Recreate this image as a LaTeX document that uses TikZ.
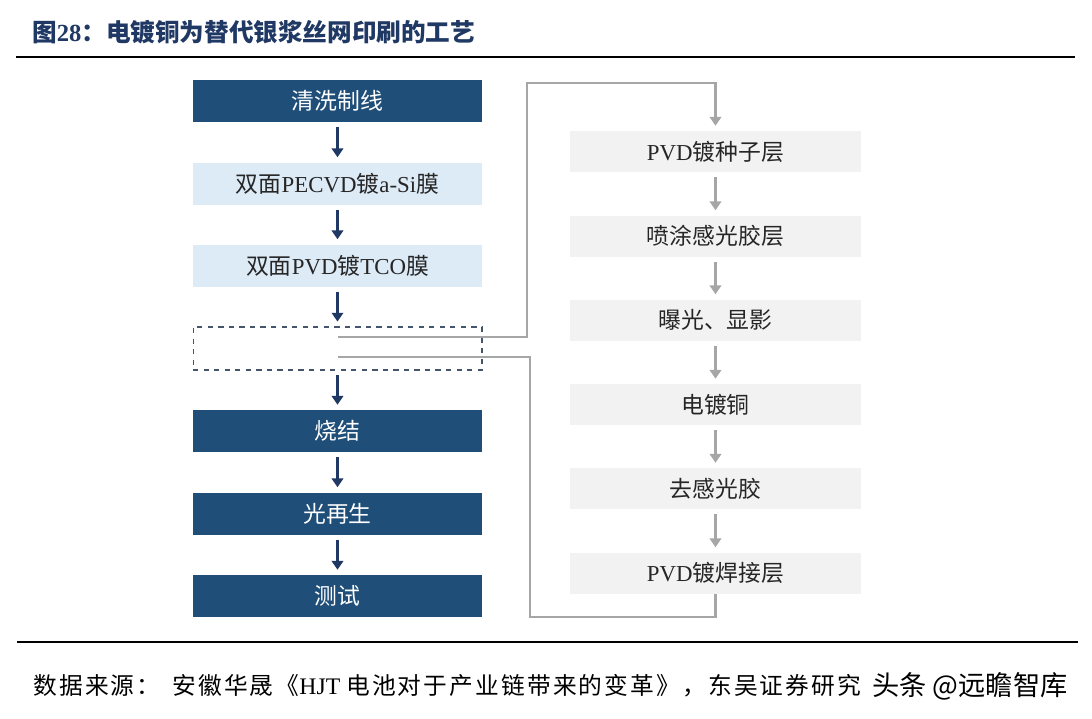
\documentclass[tikz,border=0pt]{standalone}
\usepackage{fontspec}
\usetikzlibrary{arrows.meta}
\setmainfont{Liberation Serif}
\newfontfamily\cjk{Noto Sans CJK SC}
\newfontfamily\cjkwide{Noto Sans CJK SC}[LetterSpace=9]
\newcommand{\zh}[1]{{\cjk #1}}
\newcommand{\zhw}[1]{{\cjkwide #1}}

\definecolor{navy}{HTML}{1F4E79}
\definecolor{paleblue}{HTML}{DDEBF7}
\definecolor{palegray}{HTML}{F2F2F2}
\definecolor{arrownavy}{HTML}{203864}
\definecolor{linegray}{HTML}{A6A6A6}
\definecolor{titleblue}{HTML}{1F3864}
\definecolor{dashblue}{HTML}{44546A}

\tikzset{
  darkstep/.style={fill=navy, text=white, inner sep=0pt,
    minimum width=5.78cm, minimum height=0.84cm},
  lightstep/.style={darkstep, fill=paleblue, text=black!85},
  graystep/.style={fill=palegray, text=black!85, inner sep=0pt,
    minimum width=5.82cm, minimum height=0.82cm},
  holdbox/.style={draw=dashblue, dashed, line width=0.6pt, inner sep=0pt,
    minimum width=5.78cm, minimum height=0.86cm},
  navyarrow/.style={draw=arrownavy, line width=1.2pt,
    -{Triangle[length=5pt,width=6.5pt]}, shorten <=2.8pt, shorten >=2.8pt},
  grayarrow/.style={draw=linegray, line width=1.2pt,
    -{Triangle[length=5pt,width=6.5pt]}, shorten <=2.8pt, shorten >=2.8pt},
  grayline/.style={draw=linegray, line width=1.2pt},
}

\begin{document}
\begin{tikzpicture}[x=0.02cm, y=-0.02cm]
  \useasboundingbox (0,0) rectangle (1092,718);
  {\fontsize{13pt}{15pt}\selectfont

  % Title and rules
  \node [anchor=west, text=titleblue, inner sep=0pt, font=\fontsize{14pt}{16pt}\selectfont\bfseries]
    (title) at (32,32) {\zh{图}28\zh{：电镀铜为替代银浆丝网印刷的工艺}};
  \draw [line width=1.5pt] (16,57) -- (1075,57);
  \draw [line width=1.5pt] (17,642) -- (1078,642);

  % Left column: main process
  \node [darkstep] (clean) at (337.5,101) {\zh{清洗制线}};
  \node [lightstep] (pecvd) at (337.5,183.5) {\zh{双面}PECVD\zh{镀}a-Si\zh{膜}};
  \node [lightstep] (tco) at (337.5,265.5) {\zh{双面}PVD\zh{镀}TCO\zh{膜}};
  \node [holdbox] (hold) at (337.5,348.5) {};
  \node [darkstep] (sinter) at (337.5,431) {\zh{烧结}};
  \node [darkstep] (regen) at (337.5,513.5) {\zh{光再生}};
  \node [darkstep] (test) at (337.5,596) {\zh{测试}};

  % Right column: copper plating steps
  \node [graystep] (seed) at (715.5,151.5) {PVD\zh{镀种子层}};
  \node [graystep] (resist) at (715.5,236) {\zh{喷涂感光胶层}};
  \node [graystep] (expose) at (715.5,320) {\zh{曝光、显影}};
  \node [graystep] (plate) at (715.5,404.5) {\zh{电镀铜}};
  \node [graystep] (strip) at (715.5,488.5) {\zh{去感光胶}};
  \node [graystep] (solder) at (715.5,573) {PVD\zh{镀焊接层}};

  % Arrows
  \draw [navyarrow] (clean) -- (pecvd);
  \draw [navyarrow] (pecvd) -- (tco);
  \draw [navyarrow] (tco) -- (hold);
  \draw [navyarrow] (hold) -- (sinter);
  \draw [navyarrow] (sinter) -- (regen);
  \draw [navyarrow] (regen) -- (test);
  \draw [grayarrow] (seed) -- (resist);
  \draw [grayarrow] (resist) -- (expose);
  \draw [grayarrow] (expose) -- (plate);
  \draw [grayarrow] (plate) -- (strip);
  \draw [grayarrow] (strip) -- (solder);

  % Loop out of the dashed box and back
  \coordinate (tapout) at (338,337);
  \coordinate (tapin) at (338,357);
  \draw [grayline, -{Triangle[length=5pt,width=6.5pt]}, shorten >=2.8pt]
    (tapout) -- (527,337) -- (527,83) -| (seed.north);
  \draw [grayline] (solder.south) |- (530,617) -- (530,357) -- (tapin);

  % Source line
  \node [anchor=west, inner sep=0pt, font=\fontsize{13.5pt}{15pt}\selectfont] (source) at (33,686)
    {\zhw{数据来源：}\hspace{0.5em}\zhw{安徽华晟《}HJT\ \zhw{电池对于产业链带来的变革》，东吴证券研究}};
  \node [anchor=west, inner sep=0pt, font=\fontsize{15.5pt}{17pt}\selectfont] (mark) at (872,686)
    {\zh{头条 @远瞻智库}};
  }
\end{tikzpicture}
\end{document}
